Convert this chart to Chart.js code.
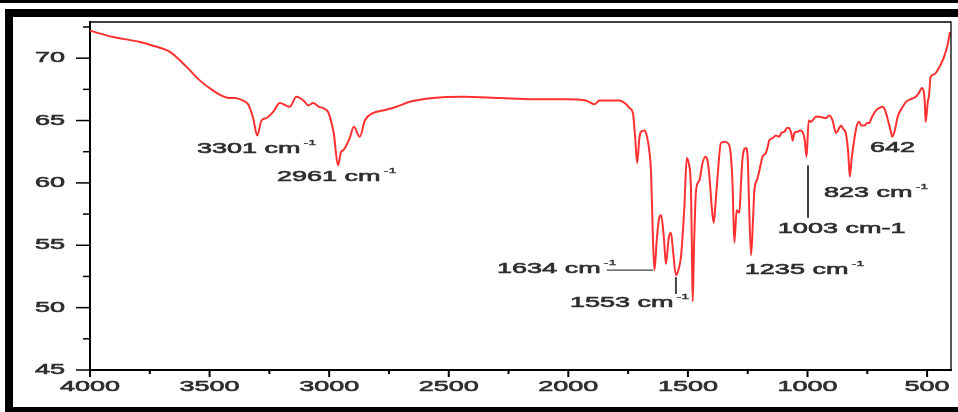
<!DOCTYPE html>
<html>
<head>
<meta charset="utf-8">
<script src="https://cdn.jsdelivr.net/npm/chart.js@4.4.1/dist/chart.umd.min.js"></script>
<style>
body { margin: 0; background: #fff; }
#wrap { position: relative; width: 958px; height: 412px; overflow: hidden; }
#spectrum { position: absolute; left: 0; top: 0; }
.bar { position: absolute; background: #000; }
</style>
</head>
<body>
<div id="wrap">
  <canvas id="spectrum" width="958" height="412"></canvas>
  <div class="bar" style="left:0;top:0;width:958px;height:3px"></div>
  <div class="bar" style="left:5px;top:9px;width:953px;height:8px"></div>
  <div class="bar" style="left:5px;top:9px;width:8px;height:403px"></div>
  <div class="bar" style="left:5px;top:407px;width:953px;height:5px"></div>
</div>
<script>
/* IR spectrum, transmittance (%) vs wavenumber (cm-1) */
const wavenumber = [
    4000, 3904, 3791, 3737, 3666, 3596, 3540, 3485, 3450, 3415,
    3395, 3360, 3339, 3318, 3301, 3283, 3262, 3234, 3206, 3179,
    3165, 3137, 3102, 3088, 3067, 3043, 3025, 3005, 2997, 2981,
    2963, 2950, 2942, 2914, 2897, 2872, 2851, 2817, 2775, 2719,
    2663, 2566, 2441, 2288, 2148, 2009, 1926, 1891, 1870, 1786,
    1758, 1744, 1730, 1722, 1712, 1703, 1696, 1682, 1675, 1661,
    1654, 1647, 1640, 1630, 1620, 1612, 1600, 1592, 1580, 1571,
    1562, 1550, 1540, 1529, 1515, 1505, 1496, 1487, 1483, 1480,
    1475, 1466, 1452, 1440, 1427, 1418, 1410, 1400, 1392, 1384,
    1376, 1362, 1345, 1334, 1322, 1313, 1306, 1296, 1285, 1278,
    1271, 1257, 1250, 1246, 1236, 1228, 1222, 1210, 1201, 1188,
    1174, 1165, 1160, 1145, 1132, 1118, 1110, 1097, 1085, 1079,
    1068, 1062, 1055, 1042, 1030, 1021, 1012, 1004, 995, 985,
    965, 951, 923, 909, 895, 881, 870, 860, 850, 840,
    830, 823, 815, 805, 795, 784, 775, 763, 750, 742,
    730, 714, 700, 686, 675, 666, 655, 645, 635, 623,
    605, 588, 570, 547, 535, 521, 514, 510, 506, 502,
    497, 492, 485, 470, 457, 440, 429, 415, 404
];
const transmittance = [
    72.2, 71.7, 71.3, 71.0, 70.5, 69.3, 68.2, 67.4, 67.0, 66.8,
    66.8, 66.6, 66.3, 65.2, 63.8, 65.0, 65.2, 65.7, 66.4, 66.2,
    66.1, 66.9, 66.5, 66.2, 66.4, 66.1, 66.0, 65.7, 65.3, 64.0,
    61.4, 62.5, 62.6, 63.6, 64.5, 63.7, 65.0, 65.6, 65.8, 66.1,
    66.5, 66.8, 66.9, 66.8, 66.7, 66.7, 66.6, 66.3, 66.6, 66.6,
    66.3, 66.0, 65.6, 64.0, 61.6, 63.6, 64.1, 64.2, 64.0, 62.5,
    60.8, 56.0, 53.0, 55.5, 57.2, 57.4, 55.5, 53.5, 55.6, 56.0,
    54.5, 52.6, 53.0, 54.1, 58.0, 62.0, 61.5, 59.4, 54.0, 50.5,
    54.5, 59.4, 60.2, 61.5, 62.1, 61.8, 60.5, 58.0, 56.8, 58.5,
    60.5, 63.2, 63.3, 63.2, 62.5, 59.7, 55.2, 57.8, 57.6, 60.0,
    62.1, 62.8, 62.0, 59.4, 54.2, 57.0, 59.4, 60.3, 61.0, 62.1,
    62.4, 63.0, 63.4, 63.6, 63.8, 63.7, 64.0, 64.1, 64.4, 64.4,
    64.0, 63.4, 64.0, 64.1, 64.2, 64.1, 63.5, 62.1, 65.0, 64.9,
    65.3, 65.3, 65.2, 65.4, 65.0, 64.0, 64.3, 64.6, 64.3, 64.0,
    62.5, 60.5, 62.0, 63.4, 64.5, 64.9, 64.6, 64.6, 64.8, 64.8,
    65.3, 65.8, 66.0, 66.1, 65.8, 65.2, 64.4, 63.7, 64.2, 65.3,
    66.0, 66.5, 66.7, 66.9, 67.2, 67.6, 67.3, 66.6, 64.9, 65.5,
    66.5, 67.0, 68.5, 68.7, 69.0, 69.6, 70.1, 71.0, 72.1
];

// axis ticks
const xMajorTicks = [4000, 3500, 3000, 2500, 2000, 1500, 1000, 500];
const xMinorTicks = [3750, 3250, 2750, 2250, 1750, 1250, 750];
const yMajorTicks = [45, 50, 55, 60, 65, 70];
const yMinorTicks = [47.5, 52.5, 57.5, 62.5, 67.5, 72.5];

// peak labels (anchor = left edge / middle of the text, in data units)
const peakText = ['3301 cm', '2961 cm', '1634 cm', '1553 cm', '1235 cm', '1003 cm-1', '823 cm', '642'];
const peakSup  = ['-1', '-1', '-1', '-1', '-1', '', '-1', ''];
const peakTextX = [3553, 3218, 2298, 1993, 1262, 1124, 931, 739];
const peakTextY = [62.7, 60.5, 53.1, 50.4, 53.0, 56.3, 59.2, 62.8];
// leader lines from label to peak
const leadFromX = [1839, 1550, 998];
const leadFromY = [53.0, 52.45, 61.4];
const leadToX   = [1646, 1550, 998];
const leadToY   = [53.0, 51.1, 57.2];

const STRETCH = 1.8;
const FONT = '"Liberation Sans", Arial, sans-serif';
const TEXT_COL = '#2e2e2e';

function wideText(ctx, str, px, py, align, size) {
    ctx.save();
    ctx.translate(px, py);
    ctx.scale(STRETCH, 1);
    ctx.font = size + 'px ' + FONT;
    ctx.textAlign = align;
    ctx.textBaseline = 'middle';
    ctx.fillStyle = TEXT_COL;
    ctx.strokeStyle = TEXT_COL;
    ctx.lineWidth = size > 10 ? 0.6 : 0.3;
    ctx.fillText(str, 0, 0);
    ctx.strokeText(str, 0, 0);
    var w = ctx.measureText(str).width * STRETCH;
    ctx.restore();
    return w;
}

const axesDecor = {
    id: 'axesDecor',
    afterDraw(chart) {
        const ctx = chart.ctx;
        const a = chart.chartArea;
        const x = chart.scales.x, y = chart.scales.y;
        ctx.save();
        // top and right edge of the box
        ctx.strokeStyle = '#000';
        ctx.lineWidth = 1.3;
        ctx.beginPath();
        ctx.moveTo(a.left, a.top);
        ctx.lineTo(a.right, a.top);
        ctx.lineTo(a.right, a.bottom);
        ctx.stroke();

        // x ticks
        ctx.lineWidth = 2;
        xMajorTicks.forEach(v => {
            const px = x.getPixelForValue(v);
            ctx.beginPath(); ctx.moveTo(px, a.bottom); ctx.lineTo(px, a.bottom + 7); ctx.stroke();
            wideText(ctx, String(v), px, a.bottom + 17, 'center', 15);
        });
        xMinorTicks.forEach(v => {
            const px = x.getPixelForValue(v);
            ctx.beginPath(); ctx.moveTo(px, a.bottom); ctx.lineTo(px, a.bottom + 4); ctx.stroke();
        });
        // y ticks
        ctx.lineWidth = 1.5;
        yMajorTicks.forEach(v => {
            const py = y.getPixelForValue(v);
            ctx.beginPath(); ctx.moveTo(a.left - 14, py); ctx.lineTo(a.left, py); ctx.stroke();
            wideText(ctx, String(v), a.left - 25, py, 'right', 15);
        });
        yMinorTicks.forEach(v => {
            const py = y.getPixelForValue(v);
            ctx.beginPath(); ctx.moveTo(a.left - 7, py); ctx.lineTo(a.left, py); ctx.stroke();
        });

        // peak annotations
        peakText.forEach((t, i) => {
            const px = x.getPixelForValue(peakTextX[i]);
            const py = y.getPixelForValue(peakTextY[i]);
            const w = wideText(ctx, t, px, py, 'left', 15);
            if (peakSup[i]) wideText(ctx, peakSup[i], px + w + 3, py - 6, 'left', 8);
        });
        ctx.strokeStyle = '#444';
        leadFromX.forEach((v, i) => {
            ctx.lineWidth = i == 0 ? 1.3 : 2;
            ctx.beginPath();
            ctx.moveTo(x.getPixelForValue(v), y.getPixelForValue(leadFromY[i]));
            ctx.lineTo(x.getPixelForValue(leadToX[i]), y.getPixelForValue(leadToY[i]));
            ctx.stroke();
        });
        ctx.restore();
    }
};

var ctx = document.getElementById('spectrum').getContext('2d');
var spectrumChart = new Chart(ctx, {
    type: 'line',
    data: {
        datasets: [{
            label: 'IR',
            data: wavenumber.map((w, i) => ({ x: w, y: transmittance[i] })),
            borderColor: '#ff3030',
            borderWidth: 2,
            pointRadius: 0,
            cubicInterpolationMode: 'monotone',
            fill: false
        }]
    },
    options: {
        responsive: false,
        animation: false,
        devicePixelRatio: 1,
        layout: { padding: { left: 90, right: 7, top: 22, bottom: 42 } },
        plugins: { legend: { display: false }, tooltip: { enabled: false } },
        scales: {
            x: {
                type: 'linear',
                reverse: true,
                min: 400,
                max: 4000,
                ticks: { display: false },
                grid: { display: false, drawTicks: false },
                border: { display: true, color: '#000', width: 2 }
            },
            y: {
                min: 45,
                max: 72.9,
                ticks: { display: false },
                grid: { display: false, drawTicks: false },
                border: { display: true, color: '#000', width: 2 }
            }
        }
    },
    plugins: [axesDecor]
});
</script>
</body>
</html>
